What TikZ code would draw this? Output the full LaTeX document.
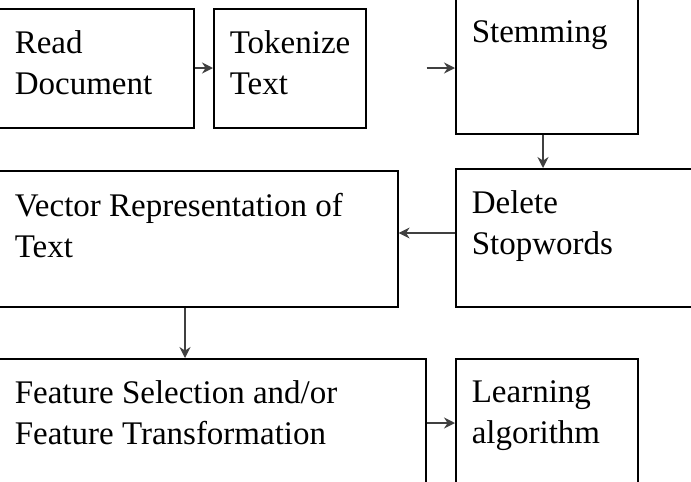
\documentclass[tikz,border=0pt]{standalone}
\usepackage{fontspec}
\setmainfont{Liberation Serif}
\usetikzlibrary{arrows.meta}
\begin{document}
\begin{tikzpicture}[x=1pt, y=-1pt, ->, >={Stealth[length=11pt,width=11pt]}, line width=1.6pt]
        \tikzset{step/.style={draw, rectangle, anchor=north west, inner sep=0pt, line width=1.6pt,
            label={[anchor=north west, align=left, inner sep=0pt, xshift=16pt, yshift=-22pt,
                    font=\fontsize{33}{41}\selectfont]north west:#1}}}
        \tikzset{flow/.style={draw=black!75}}
        \useasboundingbox (0,0) rectangle (691,482);

        \node[step={Read\\Document}, minimum width=195pt, minimum height=119pt](read) at (-2,8) {};
        \node[step={Tokenize\\Text}, minimum width=152pt, minimum height=119pt](token) at (213,8) {};
        \node[step={Stemming}, minimum width=182pt, minimum height=135pt](stem) at (455,-2) {};
        \node[step={Delete\\Stopwords}, minimum width=240pt, minimum height=138pt](delete) at (455,168) {};
        \node[step={Vector Representation of\\Text}, minimum width=399pt, minimum height=136pt](vector) at (-2,170) {};
        \node[step={Feature Selection and/or\\Feature Transformation}, minimum width=427pt, minimum height=130pt](feature) at (-2,358) {};
        \node[step={Learning\\algorithm}, minimum width=182pt, minimum height=130pt](learn) at (455,358) {};

        \draw[flow] (read.east |- 0,68) -- (token.west |- 0,68);
        \draw[flow] (token.east |- 0,68) ++(60,0) -- (stem.west |- 0,68);
        \draw[flow] (stem.south -| 543,0) -- (delete.north -| 543,0);
        \draw[flow] (delete.west |- 0,233) -- (vector.east |- 0,233);
        \draw[flow] (vector.south -| 185,0) -- (feature.north -| 185,0);
        \draw[flow] (feature.east |- 0,423) -- (learn.west |- 0,423);
\end{tikzpicture}
\end{document}
